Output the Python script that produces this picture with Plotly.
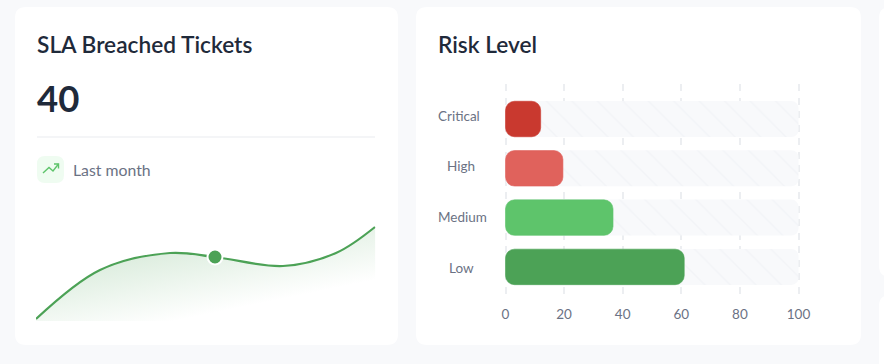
import base64
import plotly.graph_objects as go

# ---- data ----
title_left = "SLA Breached Tickets"
kpi_value = "40"
period_label = "Last month"
spark_x = [0, 64, 134, 179, 247, 300, 339]
spark_y = [1, 50, 67, 63, 54, 67, 93]
spark_marker_x = [179]
spark_marker_y = [63]
title_right = "Risk Level"
risk_levels = ["Critical", "High", "Medium", "Low"]
risk_values = [12, 19.6, 36.7, 61]
risk_totals = [100, 100, 100, 100]
risk_colors = ["#C9392F", "#E0625C", "#5EC46B", "#4CA256"]
x_ticks = [0, 20, 40, 60, 80, 100]
label_xshift = [-2, 0, 1.5, 0]
label_yshift = [3, 2, 1, -1]

W, H = 884, 364
BG = "#F8F9FB"
DARK = "#1F2A3A"
GREY = "#6B7284"
GREEN = "#4CA256"
BAR_BASE = 0.001  # non-zero start makes plotly round both ends of a bar


def px(x):
    return x / W


def py(y):
    return 1 - y / H


def rrect(x0, y0, x1, y1, r):
    pts = [
        ("M", x0 + r, y0), ("L", x1 - r, y0), ("Q", x1, y0, x1, y0 + r),
        ("L", x1, y1 - r), ("Q", x1, y1, x1 - r, y1), ("L", x0 + r, y1),
        ("Q", x0, y1, x0, y1 - r), ("L", x0, y0 + r), ("Q", x0, y0, x0 + r, y0),
    ]
    out = []
    for p in pts:
        c = [f"{px(v):.5f}" if i % 2 == 0 else f"{py(v):.5f}" for i, v in enumerate(p[1:])]
        pairs = [f"{c[i]},{c[i + 1]}" for i in range(0, len(c), 2)]
        out.append(p[0] + " " + " ".join(pairs))
    return " ".join(out) + " Z"


def polyline(points):
    return "M " + " L ".join(f"{px(a):.5f},{py(b):.5f}" for a, b in points)


def card(x0, y0, x1, y1, r=11, fill="#FFFFFF"):
    return dict(type="path", xref="paper", yref="paper", path=rrect(x0, y0, x1, y1, r),
                fillcolor=fill, line=dict(width=0), layer="below")


fig = go.Figure()

# gradient behind the sparkline area (tilted, green fading to nothing)
svg = (
    '<svg xmlns="http://www.w3.org/2000/svg" width="340" height="95" viewBox="0 0 340 95">'
    '<defs><linearGradient id="g" gradientUnits="userSpaceOnUse" x1="129" y1="20.5" x2="144" y2="94">'
    '<stop offset="0" stop-color="#4CA256" stop-opacity="0.2"/>'
    '<stop offset="1" stop-color="#4CA256" stop-opacity="0"/>'
    '</linearGradient></defs><rect width="340" height="95" fill="url(#g)"/></svg>'
)
uri = "data:image/svg+xml;base64," + base64.b64encode(svg.encode()).decode()

# white mask above the curve, so the gradient shows only below it
fig.add_trace(go.Scatter(x=spark_x, y=[94] * len(spark_x), xaxis="x", yaxis="y", mode="lines",
                         line=dict(width=0, color="rgba(255,255,255,0)"), showlegend=False, hoverinfo="skip"))
fig.add_trace(go.Scatter(x=spark_x, y=spark_y, xaxis="x", yaxis="y", mode="lines", fill="tonexty",
                         fillcolor="#FFFFFF", line=dict(color=GREEN, width=2.2, shape="spline", smoothing=1),
                         showlegend=False))
fig.add_trace(go.Scatter(x=spark_marker_x, y=spark_marker_y, xaxis="x", yaxis="y", mode="markers",
                         marker=dict(size=15, color=GREEN, line=dict(color="#FFFFFF", width=2)),
                         showlegend=False))

# risk bars
fig.add_trace(go.Bar(y=risk_levels, x=risk_totals, base=BAR_BASE, orientation="h", xaxis="x2", yaxis="y2", width=0.73,
                     marker=dict(color="#F8F9FB", cornerradius=7, line=dict(width=0),
                                 pattern=dict(shape="\\", size=18, solidity=0.07,
                                              fgcolor="#F2F4F7", bgcolor="#F8F9FB", fillmode="replace")),
                     showlegend=False, hoverinfo="skip"))
fig.add_trace(go.Bar(y=risk_levels, x=risk_values, base=BAR_BASE, orientation="h", xaxis="x2", yaxis="y2", width=0.72,
                     marker=dict(color=risk_colors, cornerradius=9, line=dict(width=0.6, color=risk_colors)),
                     showlegend=False))

shapes = [
    card(15, 7, 398, 345),
    card(416, 7, 861, 345),
    card(879, 7, 900, 277),
    card(879, 295, 900, 380),
    dict(type="line", xref="paper", yref="paper", x0=px(37), x1=px(375), y0=py(137), y1=py(137),
         line=dict(color="#F1F2F4", width=1.5), layer="below"),
    card(37, 156, 64, 183, r=8, fill="#EFFCF1"),
    dict(type="path", xref="paper", yref="paper", layer="above", line=dict(color="#5EC46B", width=1.4),
         path=polyline([(43, 173), (49, 167.5), (53, 171), (58.5, 164)])),
    dict(type="path", xref="paper", yref="paper", layer="above", line=dict(color="#5EC46B", width=1.4),
         path=polyline([(54, 164), (58.5, 164), (58.5, 168.5)])),
]

annos = [
    dict(text=title_left, x=px(35), y=py(44), font=dict(size=22.7, color=DARK, family="Lato", weight=600)),
    dict(text=kpi_value, x=px(35), y=py(98), font=dict(size=36.5, color=DARK, family="Lato", weight=700)),
    dict(text=period_label, x=px(71), y=py(169), font=dict(size=15.8, color=GREY, family="Lato")),
    dict(text=title_right, x=px(436), y=py(44), font=dict(size=22.7, color=DARK, family="Lato", weight=600)),
]
annos = [dict(a, xref="paper", yref="paper", xanchor="left", yanchor="middle", showarrow=False) for a in annos]
for lev, dx, dy in zip(risk_levels, label_xshift, label_yshift):
    annos.append(dict(text=lev, x=px(461), xref="paper", y=lev, yref="y2", xanchor="center", yanchor="middle",
                      xshift=dx, yshift=dy, showarrow=False, font=dict(size=13.5, color=GREY, family="Lato")))

fig.update_layout(
    width=W, height=H, autosize=False,
    margin=dict(l=0, r=0, t=0, b=0, autoexpand=False),
    paper_bgcolor=BG, plot_bgcolor="rgba(0,0,0,0)",
    barmode="overlay",
    font=dict(family="Lato", color=GREY, size=14),
    shapes=shapes,
    annotations=annos,
    images=[dict(source=uri, xref="x", yref="y", x=0, y=94, sizex=339.5, sizey=95,
                 xanchor="left", yanchor="top", sizing="stretch", layer="below")],
    xaxis=dict(domain=[px(36), px(375.5)], range=[0, 339.5], visible=False, fixedrange=True),
    yaxis=dict(domain=[py(321), py(226)], range=[-1, 94], visible=False, fixedrange=True),
    xaxis2=dict(domain=[px(504), px(800)], range=[-0.512, 100.512], anchor="y2", tickvals=x_ticks,
                showgrid=True, gridcolor="#ECEEF1", gridwidth=1.6, griddash="7px,6.5px",
                zeroline=False, showline=False, ticks="outside", ticklen=6, tickcolor="rgba(0,0,0,0)",
                tickfont=dict(size=13.5, color=GREY, family="Lato"), fixedrange=True),
    yaxis2=dict(domain=[py(296), py(84)], range=[3.59, -0.71], type="category", anchor="x2",
                categoryorder="array", categoryarray=risk_levels, showticklabels=False,
                showgrid=False, zeroline=False, showline=False, fixedrange=True),
)

fig.write_html("out.html", config={"displayModeBar": False},
               post_script="document.body.style.margin='0';document.body.style.overflow='hidden';")
